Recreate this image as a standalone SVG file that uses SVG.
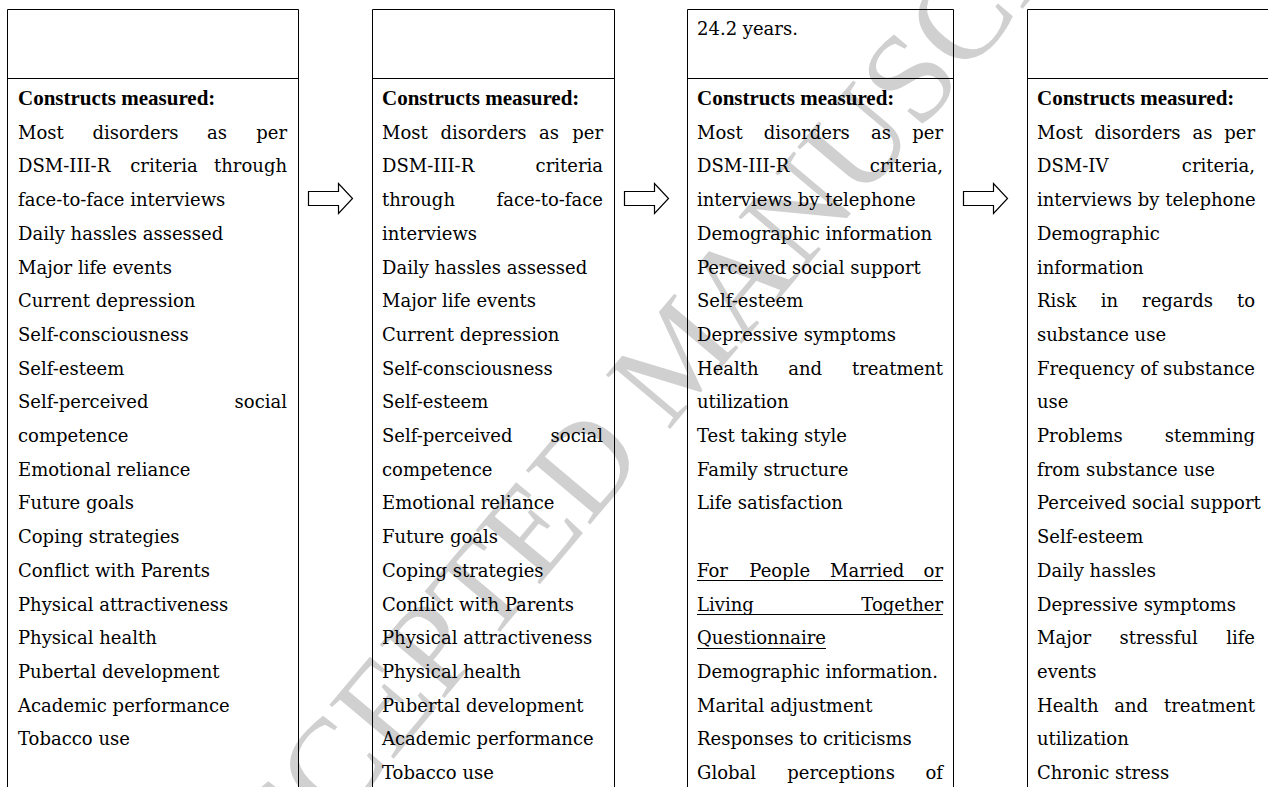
<svg xmlns="http://www.w3.org/2000/svg" width="1268" height="787" viewBox="0 0 1268 787">
<style>
.box{fill:none;stroke:#000;stroke-width:1}
.t{font-family:"DejaVu Serif","Liberation Serif",serif;font-size:18px;fill:#000}
.h{font-family:"Liberation Serif","DejaVu Serif",serif;font-size:21px;font-weight:bold;fill:#000}
.e{text-anchor:end}
.m{text-anchor:middle}
.u{stroke:#000;stroke-width:1}
.arrow{fill:#fff;stroke:#000;stroke-width:1.2;stroke-linejoin:miter}
.wm{font-family:"Liberation Serif",serif;font-size:128px;fill:#d0d0d0}
</style>
<rect width="1268" height="787" fill="#fff"/>
<text class="wm" transform="translate(222,963) rotate(-50)">ACCEPTED MANUSCRIPT</text>

<g id="node1">
<path class="box" d="M7.5 790 V9.5 H298.5 V790 M7.5 78.5 H298.5"/>
<text class="h" x="18" y="105">Constructs measured:</text>
<text class="t" x="18" y="138.7">Most</text><text class="t m" x="135.5" y="138.7">disorders</text><text class="t m" x="217" y="138.7">as</text><text class="t e" x="287" y="138.7">per</text>
<text class="t" x="18" y="172.4">DSM-III-R</text><text class="t m" x="164" y="172.4">criteria</text><text class="t e" x="287" y="172.4">through</text>
<text class="t" x="18" y="206.1">face-to-face interviews</text>
<text class="t" x="18" y="239.8">Daily hassles assessed</text>
<text class="t" x="18" y="273.5">Major life events</text>
<text class="t" x="18" y="307.2">Current depression</text>
<text class="t" x="18" y="340.9">Self-consciousness</text>
<text class="t" x="18" y="374.6">Self-esteem</text>
<text class="t" x="18" y="408.3">Self-perceived</text><text class="t e" x="287" y="408.3">social</text>
<text class="t" x="18" y="442">competence</text>
<text class="t" x="18" y="475.7">Emotional reliance</text>
<text class="t" x="18" y="509.4">Future goals</text>
<text class="t" x="18" y="543.1">Coping strategies</text>
<text class="t" x="18" y="576.8">Conflict with Parents</text>
<text class="t" x="18" y="610.5">Physical attractiveness</text>
<text class="t" x="18" y="644.2">Physical health</text>
<text class="t" x="18" y="677.9">Pubertal development</text>
<text class="t" x="18" y="711.6">Academic performance</text>
<text class="t" x="18" y="745.3">Tobacco use</text>
</g>

<g id="node2">
<path class="box" d="M372.5 790 V9.5 H614.5 V790 M372.5 78.5 H614.5"/>
<text class="h" x="382" y="105">Constructs measured:</text>
<text class="t" x="382" y="138.7">Most</text><text class="t m" x="483.5" y="138.7">disorders</text><text class="t m" x="549" y="138.7">as</text><text class="t e" x="603" y="138.7">per</text>
<text class="t" x="382" y="172.4">DSM-III-R</text><text class="t e" x="603" y="172.4">criteria</text>
<text class="t" x="382" y="206.1">through</text><text class="t e" x="603" y="206.1">face-to-face</text>
<text class="t" x="382" y="239.8">interviews</text>
<text class="t" x="382" y="273.5">Daily hassles assessed</text>
<text class="t" x="382" y="307.2">Major life events</text>
<text class="t" x="382" y="340.9">Current depression</text>
<text class="t" x="382" y="374.6">Self-consciousness</text>
<text class="t" x="382" y="408.3">Self-esteem</text>
<text class="t" x="382" y="442">Self-perceived</text><text class="t e" x="603" y="442">social</text>
<text class="t" x="382" y="475.7">competence</text>
<text class="t" x="382" y="509.4">Emotional reliance</text>
<text class="t" x="382" y="543.1">Future goals</text>
<text class="t" x="382" y="576.8">Coping strategies</text>
<text class="t" x="382" y="610.5">Conflict with Parents</text>
<text class="t" x="382" y="644.2">Physical attractiveness</text>
<text class="t" x="382" y="677.9">Physical health</text>
<text class="t" x="382" y="711.6">Pubertal development</text>
<text class="t" x="382" y="745.3">Academic performance</text>
<text class="t" x="382" y="779">Tobacco use</text>
</g>

<g id="node3">
<path class="box" d="M687.5 790 V9.5 H953.5 V790 M687.5 78.5 H953.5"/>
<text class="t" x="697" y="35">24.2 years.</text>
<text class="h" x="697" y="105">Constructs measured:</text>
<text class="t" x="697" y="138.7">Most</text><text class="t m" x="806.8" y="138.7">disorders</text><text class="t m" x="881" y="138.7">as</text><text class="t e" x="943" y="138.7">per</text>
<text class="t" x="697" y="172.4">DSM-III-R</text><text class="t e" x="943" y="172.4">criteria,</text>
<text class="t" x="697" y="206.1">interviews by telephone</text>
<text class="t" x="697" y="239.8">Demographic information</text>
<text class="t" x="697" y="273.5">Perceived social support</text>
<text class="t" x="697" y="307.2">Self-esteem</text>
<text class="t" x="697" y="340.9">Depressive symptoms</text>
<text class="t" x="697" y="374.6">Health</text><text class="t m" x="805.2" y="374.6">and</text><text class="t e" x="943" y="374.6">treatment</text>
<text class="t" x="697" y="408.3">utilization</text>
<text class="t" x="697" y="442">Test taking style</text>
<text class="t" x="697" y="475.7">Family structure</text>
<text class="t" x="697" y="509.4">Life satisfaction</text>
<text class="t" x="697" y="576.8">For</text><text class="t m" x="779.7" y="576.8">People</text><text class="t m" x="867.2" y="576.8">Married</text><text class="t e" x="943" y="576.8">or</text>
<text class="t" x="697" y="610.5">Living</text><text class="t e" x="943" y="610.5">Together</text>
<text class="t" x="697" y="644.2">Questionnaire</text>
<path class="u" d="M697 580.5 H943 M697 614.5 H943 M697 648.5 H826"/>
<text class="t" x="697" y="677.9">Demographic information.</text>
<text class="t" x="697" y="711.6">Marital adjustment</text>
<text class="t" x="697" y="745.3">Responses to criticisms</text>
<text class="t" x="697" y="779">Global</text><text class="t m" x="841.1" y="779">perceptions</text><text class="t e" x="943" y="779">of</text>
</g>

<g id="node4">
<path class="box" d="M1027.5 790 V9.5 H1270 M1027.5 78.5 H1270"/>
<text class="h" x="1037" y="105">Constructs measured:</text>
<text class="t" x="1037" y="138.7">Most</text><text class="t m" x="1137.5" y="138.7">disorders</text><text class="t m" x="1202.4" y="138.7">as</text><text class="t e" x="1255" y="138.7">per</text>
<text class="t" x="1037" y="172.4">DSM-IV</text><text class="t e" x="1255" y="172.4">criteria,</text>
<text class="t" x="1037" y="206.1">interviews by telephone</text>
<text class="t" x="1037" y="239.8">Demographic</text>
<text class="t" x="1037" y="273.5">information</text>
<text class="t" x="1037" y="307.2">Risk</text><text class="t m" x="1109.4" y="307.2">in</text><text class="t m" x="1177.5" y="307.2">regards</text><text class="t e" x="1255" y="307.2">to</text>
<text class="t" x="1037" y="340.9">substance use</text>
<text class="t" x="1037" y="374.6">Frequency</text><text class="t m" x="1149" y="374.6">of</text><text class="t e" x="1255" y="374.6">substance</text>
<text class="t" x="1037" y="408.3">use</text>
<text class="t" x="1037" y="442">Problems</text><text class="t e" x="1255" y="442">stemming</text>
<text class="t" x="1037" y="475.7">from substance use</text>
<text class="t" x="1037" y="509.4">Perceived social support</text>
<text class="t" x="1037" y="543.1">Self-esteem</text>
<text class="t" x="1037" y="576.8">Daily hassles</text>
<text class="t" x="1037" y="610.5">Depressive symptoms</text>
<text class="t" x="1037" y="644.2">Major</text><text class="t m" x="1158.7" y="644.2">stressful</text><text class="t e" x="1255" y="644.2">life</text>
<text class="t" x="1037" y="677.9">events</text>
<text class="t" x="1037" y="711.6">Health</text><text class="t m" x="1131.2" y="711.6">and</text><text class="t e" x="1255" y="711.6">treatment</text>
<text class="t" x="1037" y="745.3">utilization</text>
<text class="t" x="1037" y="779">Chronic stress</text>
</g>

<g id="connectors">
<path class="arrow" d="M308.5 191.5 H338.5 V183.5 L352.5 198.5 L338.5 213.5 V205.5 H308.5 Z"/>
<path class="arrow" d="M624.5 191.5 H654.5 V183.5 L668.5 198.5 L654.5 213.5 V205.5 H624.5 Z"/>
<path class="arrow" d="M963.5 191.5 H993.5 V183.5 L1007.5 198.5 L993.5 213.5 V205.5 H963.5 Z"/>
</g>
</svg>
